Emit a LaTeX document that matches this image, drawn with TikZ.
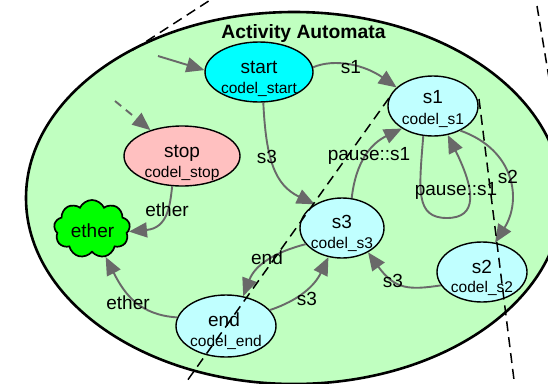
\documentclass[tikz,border=0pt]{standalone}
\usepackage{fontspec}
\setmainfont{Liberation Sans}
\usetikzlibrary{shapes.geometric,shapes.symbols,arrows.meta,calc}
\definecolor{bggreen}{RGB}{192,255,192}
\definecolor{lcyan}{RGB}{192,255,255}
\definecolor{startcyan}{RGB}{0,255,255}
\definecolor{pinkst}{RGB}{255,192,192}
\definecolor{ethergreen}{RGB}{0,255,0}
\definecolor{egray}{RGB}{105,105,105}
\tikzset{
  state/.style={ellipse, draw=black, line width=1.4pt, inner sep=0pt, fill=lcyan},
  edge/.style={draw=egray, line width=1.9pt, -{Triangle[length=18pt,width=15pt]}},
  mainlbl/.style={anchor=base, inner sep=0pt, font=\fontsize{19}{21}\selectfont},
  sublbl/.style={anchor=base, inner sep=0pt, font=\fontsize{15.5}{17}\selectfont},
  elbl/.style={anchor=base, inner sep=0pt, font=\fontsize{19}{21}\selectfont},
  cut/.style={draw=black, line width=1.5pt, dash pattern=on 10pt off 6pt},
}
\begin{document}
\begin{tikzpicture}[x=1pt,y=-1pt]
\useasboundingbox (0,0) rectangle (548,383);
\clip (0,0) rectangle (548,383);
% cluster
\draw[line width=2.6pt, fill=bggreen] (294,198) ellipse [x radius=268, y radius=186];
\node[anchor=base, inner sep=0pt, font=\bfseries\fontsize{19.3}{21}\selectfont] (title) at (303.5,38) {Activity Automata};
% states
\node[state, fill=startcyan, minimum width=108pt, minimum height=60pt] (start) at (259,72) {};
\node[state, minimum width=90pt, minimum height=60pt] (s1) at (433,106) {};
\node[state, fill=pinkst, minimum width=116pt, minimum height=60pt] (stop) at (182,156) {};
\node[state, minimum width=84pt, minimum height=60pt] (s3) at (342,228) {};
\node[state, minimum width=90pt, minimum height=60pt] (s2) at (482,272) {};
\node[state, minimum width=100pt, minimum height=62pt] (end) at (226,326) {};
\node[cloud, cloud puffs=9, cloud puff arc=130, cloud ignores aspect, draw=black, line width=1.7pt, fill=ethergreen, inner sep=0pt, minimum width=76pt, minimum height=58pt] (ether) at (92,229) {};
% free ends
\coordinate (i1) at (158,56);
\coordinate (i2) at (115,101);
% edges
\draw[edge] (i1) -- (start.178);
\draw[edge, dash pattern=on 8pt off 6pt] (i2) -- (stop);
\draw[edge] (start.5) .. controls (335,58) and (365,65) .. (s1.153);
\draw[edge] (start.278) .. controls (266,160) and (275,185) .. (s3.139);
\draw[edge] (s3.72) .. controls (356,160) and (372,143) .. (s1.216);
\draw[edge] (s1.252) .. controls (419,190) and (415,218) .. (447,218) .. controls (478,218) and (475,190) .. (s1.297);
\draw[edge] (s1.318) .. controls (515,150) and (522,200) .. (s2.66);
\draw[edge] (s2.198) .. controls (410,290) and (395,290) .. (s3.317);
\draw[edge] (s3.204) .. controls (275,252) and (255,265) .. (end.60);
\draw[edge] (end.20) .. controls (300,300) and (315,285) .. (s3.245);
\draw[edge] (end.170) .. controls (140,315) and (125,295) .. (ether.296);
\draw[edge] (stop.252) .. controls (170,205) and (168,228) .. (ether.356);
% state texts
\node[mainlbl] (tstart) at (259,73) {start};
\node[sublbl] (cstart) at (259,93) {codel\_start};
\node[mainlbl] (ts1) at (433,103) {s1};
\node[sublbl] (cs1) at (433,124) {codel\_s1};
\node[mainlbl] (tstop) at (182,157) {stop};
\node[sublbl] (cstop) at (182,177) {codel\_stop};
\node[mainlbl] (ts3) at (342,228) {s3};
\node[sublbl] (cs3) at (342,248) {codel\_s3};
\node[mainlbl] (ts2) at (482,273) {s2};
\node[sublbl] (cs2) at (482,292) {codel\_s2};
\node[mainlbl] (tend) at (224,326) {end};
\node[sublbl] (cend) at (226,346) {codel\_end};
\node[mainlbl] (tether) at (92.5,237) {ether};
% edge labels
\node[elbl] (l1) at (351,73) {s1};
\node[elbl] (l2) at (267,163) {s3};
\node[elbl] (l3) at (369,160) {pause::s1};
\node[elbl] (l4) at (456,195) {pause::s1};
\node[elbl] (l5) at (508,183) {s2};
\node[elbl] (l6) at (393,287) {s3};
\node[elbl] (l7) at (267,264) {end};
\node[elbl] (l8) at (307,305) {s3};
\node[elbl] (l9) at (128,309) {ether};
\node[elbl] (l10) at (167,216) {ether};
% dashed cut lines
\coordinate (d1a) at (133,50);
\coordinate (d1b) at (218,-5);
\coordinate (d2a) at (389,98);
\coordinate (d2b) at (182,388);
\coordinate (d3a) at (479,99);
\coordinate (d3b) at (515,388);
\coordinate (d4a) at (537,6);
\coordinate (d4b) at (549,78);
\draw[cut] (d1a) -- (d1b);
\draw[cut] (d2a) -- (d2b);
\draw[cut] (d3a) -- (d3b);
\draw[cut] (d4a) -- (d4b);
\end{tikzpicture}
\end{document}
